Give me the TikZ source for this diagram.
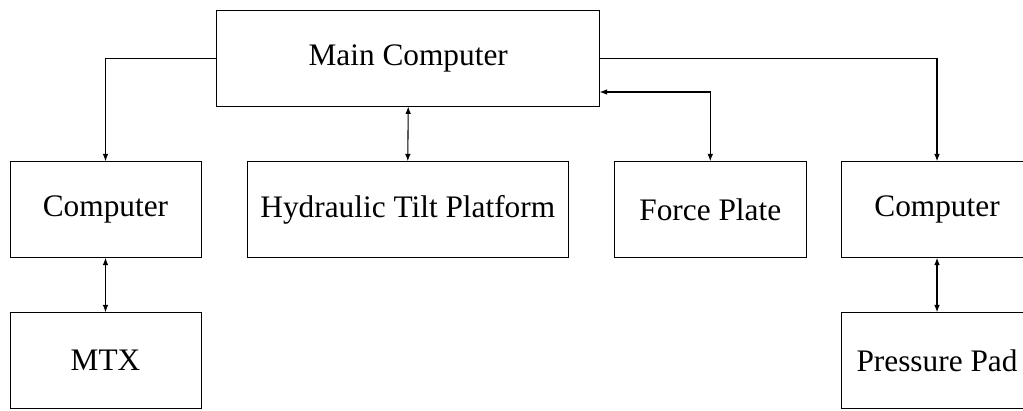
\documentclass[tikz,border=0pt]{standalone}
\usepackage{fontspec}
\setmainfont{Liberation Serif}
\usepackage{tikz}
\usetikzlibrary{arrows.meta}

\begin{document}
\begin{tikzpicture}[x = 0.75pt, y = -0.75pt, >={Latex[length=5.5pt, width=4.2pt]},
        box/.style = {draw, line width = 0.7pt, minimum height = 71.7pt, inner sep = 0pt, font = \fontsize{23.5}{28}\selectfont},
        link/.style = {line width = 0.8pt}]
            %\draw [step = 50, help lines] (0,0) grid (1023,410);
            \useasboundingbox (0,0) rectangle (1023,410);

            \node [box, minimum width = 287.3pt] (mainpc) at (408.2, 58.3) {Main Computer};

            \node [box, minimum width = 143.3pt] (leftpc) at (105.5, 209.5) {Computer};
            \node [box, minimum width = 241.1pt] (tilt) at (407.8, 209.5) {Hydraulic Tilt Platform};
            \node [box, minimum width = 143.5pt] (plate) at (710.3, 209.5) {Force Plate};
            \node [box, minimum width = 143.3pt] (rightpc) at (937, 209.5) {Computer};

            \node [box, minimum width = 143.3pt] (mtx) at (105.5, 360.5) {MTX};
            \node [box, minimum width = 143.3pt] (pad) at (937, 360.5) {Pressure Pad};

            % force plate comes back in low on the right side
            \coordinate (platein) at (599.7, 92);

            \draw [link, ->] (mainpc.west) -| (leftpc.north);
            \draw [link, ->] (mainpc.east) -| (rightpc.north);
            \draw [link, <->] (mainpc.south) -- (tilt.north);
            \draw [link, <->] (platein) -| (plate.north);

            \draw [link, <->] (leftpc.south) -- (mtx.north);
            \draw [link, <->] (rightpc.south) -- (pad.north);
        \end{tikzpicture}
\end{document}
